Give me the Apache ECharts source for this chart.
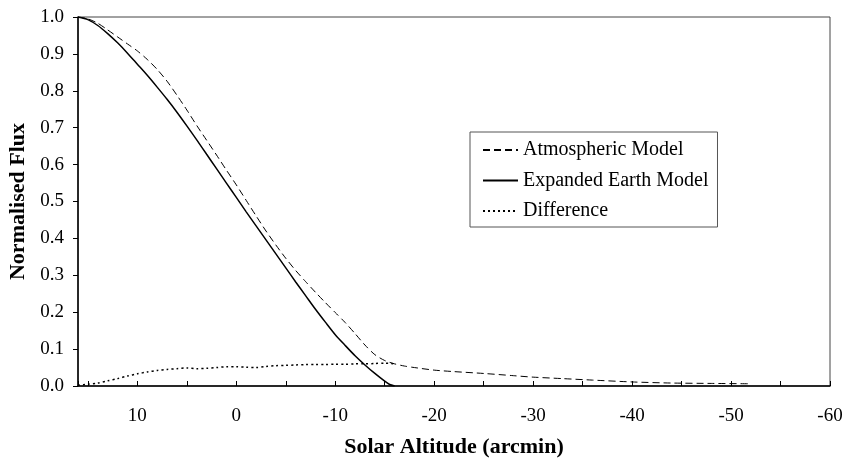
<!DOCTYPE html>
<html>
<head>
<meta charset="utf-8">
<script src="https://cdn.jsdelivr.net/npm/echarts@6/dist/echarts.min.js"></script>
<style>
  html, body { margin: 0; padding: 0; background: #fff; }
  #chart { width: 847px; height: 459px; }
</style>
</head>
<body>
<div id="chart"></div>
<script>
// Solar altitude (arcmin) and normalised flux for each model
const atmAltitude = [16, 15, 14, 13, 12, 11, 10, 9, 8, 7, 6, 5, 4, 3, 2, 1, 0, -1, -2, -3, -4, -5, -6, -7, -8, -9, -10, -11, -12, -13, -14, -15, -16, -17, -18, -20, -22, -25, -28, -30, -33, -36, -40, -44, -48, -52];
const atmFlux = [1.0, 0.995, 0.983, 0.965, 0.946, 0.927, 0.908, 0.885, 0.858, 0.826, 0.788, 0.748, 0.706, 0.666, 0.626, 0.585, 0.545, 0.503, 0.461, 0.420, 0.382, 0.346, 0.313, 0.283, 0.254, 0.226, 0.199, 0.172, 0.142, 0.111, 0.085, 0.069, 0.060, 0.054, 0.050, 0.043, 0.039, 0.034, 0.028, 0.024, 0.020, 0.016, 0.011, 0.008, 0.007, 0.006];

const earthAltitude = [16, 15, 14, 13, 12, 11, 10, 9, 8, 7, 6, 5, 4, 3, 2, 1, 0, -1, -2, -3, -4, -5, -6, -7, -8, -9, -10, -11, -12, -13, -14, -15, -15.5, -16];
const earthFlux = [1.0, 0.993, 0.977, 0.955, 0.930, 0.902, 0.872, 0.842, 0.810, 0.777, 0.742, 0.705, 0.667, 0.628, 0.589, 0.550, 0.511, 0.472, 0.434, 0.396, 0.358, 0.320, 0.282, 0.245, 0.208, 0.173, 0.139, 0.110, 0.082, 0.057, 0.034, 0.013, 0.004, 0.0];

const diffAltitude = [16, 15, 14, 13, 12, 11, 10, 9, 8, 7, 6, 5, 4, 3, 2, 1, 0, -1, -2, -3, -4, -5, -6, -7, -8, -9, -10, -11, -12, -13, -14, -15, -16];
const diffFlux = [0.002, 0.005, 0.008, 0.014, 0.020, 0.027, 0.033, 0.038, 0.042, 0.045, 0.047, 0.049, 0.047, 0.048, 0.050, 0.052, 0.052, 0.051, 0.050, 0.053, 0.055, 0.056, 0.057, 0.058, 0.058, 0.058, 0.059, 0.059, 0.060, 0.060, 0.061, 0.062, 0.060];

const seriesNames = ['Atmospheric Model', 'Expanded Earth Model', 'Difference'];

const pairs = (xs, ys) => xs.map((x, i) => [x, ys[i]]);
const FONT = '"Liberation Serif", "Times New Roman", serif';

const chart = echarts.init(document.getElementById('chart'), null, { renderer: 'canvas' });

chart.setOption({
  animation: false,
  backgroundColor: '#ffffff',
  grid: {
    left: 78, top: 17, right: 17, bottom: 73,
    containLabel: false, outerBoundsMode: 'none',
    show: true, borderColor: '#444', borderWidth: 1, backgroundColor: 'transparent'
  },
  legend: {
    orient: 'vertical',
    left: 470, top: 132,
    padding: [8, 9, 6, 12],
    itemWidth: 35, itemHeight: 14, itemGap: 10.5,
    borderColor: '#555', borderWidth: 1, backgroundColor: '#fff',
    itemStyle: { opacity: 0 },
    textStyle: { fontFamily: FONT, fontSize: 20, color: '#000', lineHeight: 20 },
    data: seriesNames
  },
  xAxis: {
    type: 'value', min: -60, max: 16, interval: 5, inverse: true,
    name: 'Solar Altitude (arcmin)', nameLocation: 'middle', nameGap: 50,
    nameTextStyle: { fontFamily: FONT, fontSize: 22, fontWeight: 'bold', color: '#000' },
    axisLine: { onZero: false, lineStyle: { color: '#000', width: 1.5 } },
    axisTick: { inside: true, length: 5, lineStyle: { color: '#000', width: 1 } },
    axisLabel: {
      margin: 21, fontFamily: FONT, fontSize: 19, color: '#000',
      showMinLabel: true, showMaxLabel: true,
      formatter: v => (Math.round(v) % 10 === 0 ? String(v) : '')
    },
    splitLine: { show: false }
  },
  yAxis: {
    type: 'value', min: 0, max: 1, interval: 0.1,
    name: 'Normalised Flux', nameLocation: 'middle', nameGap: 49,
    nameTextStyle: { fontFamily: FONT, fontSize: 22, fontWeight: 'bold', color: '#000' },
    axisLine: { show: true, onZero: false, lineStyle: { color: '#000', width: 1.5 } },
    axisTick: { show: true, inside: false, length: 5, lineStyle: { color: '#000', width: 1 } },
    axisLabel: {
      margin: 14, fontFamily: FONT, fontSize: 19, color: '#000',
      formatter: v => v.toFixed(1)
    },
    splitLine: { show: false }
  },
  series: [
    {
      name: seriesNames[0], type: 'line', data: pairs(atmAltitude, atmFlux),
      symbol: 'none', smooth: 0.25, color: '#000',
      lineStyle: { color: '#000', width: 1, type: [7, 4] }
    },
    {
      name: seriesNames[1], type: 'line', data: pairs(earthAltitude, earthFlux),
      symbol: 'none', smooth: 0.25, color: '#000',
      lineStyle: { color: '#000', width: 1.5, type: 'solid' }
    },
    {
      name: seriesNames[2], type: 'line', data: pairs(diffAltitude, diffFlux),
      symbol: 'none', smooth: 0.25, color: '#000',
      lineStyle: { color: '#000', width: 1.5, type: [2, 3] }
    }
  ]
});
</script>
</body>
</html>
